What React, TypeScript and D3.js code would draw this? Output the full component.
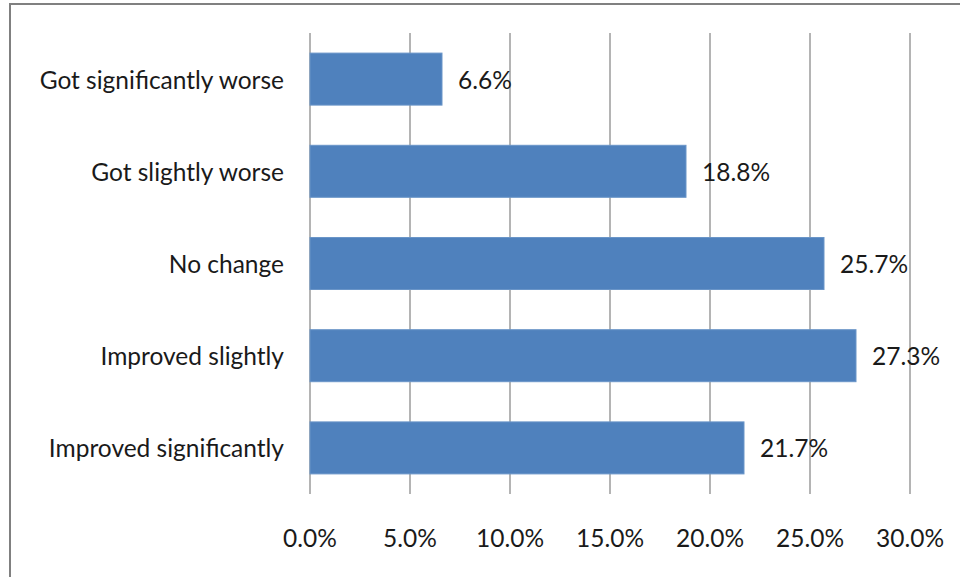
import React from "react";
import * as d3 from "d3";

const categories = [
  "Got significantly worse",
  "Got slightly worse",
  "No change",
  "Improved slightly",
  "Improved significantly",
];
const values = [6.6, 18.8, 25.7, 27.3, 21.7];
const ticks = [0, 5, 10, 15, 20, 25, 30];

const W = 960;
const H = 577;
const left = 310;
const right = 910;
const top = 33;
const bottom = 494;
const FONT = "Lato, 'Open Sans', sans-serif";
const FS = 24.5;

export default function App() {
  const x = d3.scaleLinear().domain([0, 30]).range([left, right]);
  const y = d3
    .scaleBand<string>()
    .domain(categories)
    .range([top, bottom])
    .paddingInner(0.436)
    .paddingOuter(0.218);

  return (
    <svg
      width={W}
      height={H}
      style={{ position: "absolute", left: 0, top: 0, background: "#fff" }}
    >
      <rect x={10} y={4} width={W + 10} height={H + 10} fill="#fff" stroke="#808080" strokeWidth={2} />
      {ticks.map((t) => (
        <line key={t} x1={x(t)} x2={x(t)} y1={top} y2={bottom} stroke="#8c8c8c" strokeWidth={1.3} />
      ))}
      {categories.map((c, i) => (
        <g key={c}>
          <rect
            x={x(0)}
            y={y(c)!}
            width={x(values[i]) - x(0)}
            height={y.bandwidth()}
            fill="#4F81BD"
            stroke="#6a95c8"
            strokeWidth={1}
          />
          <text
            x={284}
            y={y(c)! + y.bandwidth() / 2}
            textAnchor="end"
            dominantBaseline="central"
            fontFamily={FONT}
            fontSize={FS}
            fill="#1a1a1a"
          >
            {c}
          </text>
          <text
            x={x(values[i]) + 16}
            y={y(c)! + y.bandwidth() / 2}
            dominantBaseline="central"
            fontFamily={FONT}
            fontSize={FS}
            fill="#1a1a1a"
          >
            {values[i].toFixed(1) + "%"}
          </text>
        </g>
      ))}
      {ticks.map((t) => (
        <text
          key={"l" + t}
          x={x(t)}
          y={537}
          textAnchor="middle"
          dominantBaseline="central"
          fontFamily={FONT}
          fontSize={FS}
          fill="#1a1a1a"
        >
          {t.toFixed(1) + "%"}
        </text>
      ))}
    </svg>
  );
}
